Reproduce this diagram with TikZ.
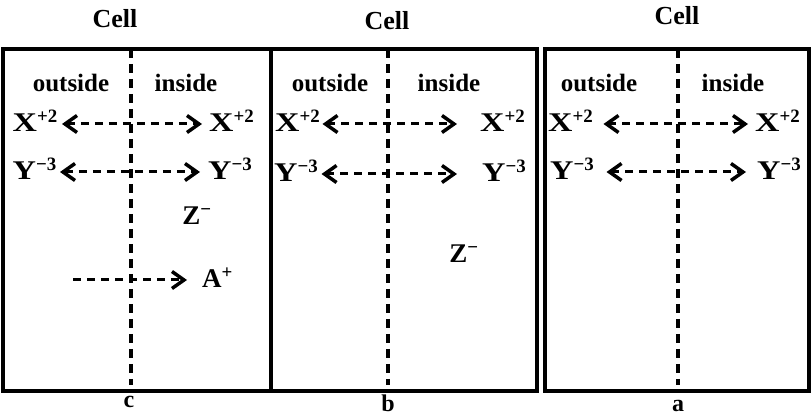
\documentclass[tikz,border=0pt]{standalone}
\usepackage{fontspec}
\setmainfont{Liberation Serif}
\usetikzlibrary{arrows.meta}
\newcommand{\wX}{\scalebox{1.25}[1]{X}}
\newcommand{\wY}{\scalebox{1.2}[1]{Y}}
\begin{document}
\begin{tikzpicture}[x=1pt,y=-1pt,
  lbl/.style={font=\fontsize{25}{25}\selectfont\bfseries, inner sep=0pt, text height=16pt, text depth=0pt},
  ion/.style={font=\fontsize{27}{27}\selectfont\bfseries, inner sep=0pt, text height=16pt, text depth=0pt},
  ttl/.style={font=\fontsize{26}{26}\selectfont\bfseries, inner sep=0pt, anchor=base},
  sub/.style={font=\fontsize{24}{24}\selectfont\bfseries, inner sep=0pt, anchor=base},
  box/.style={line width=3.5pt},
  mem/.style={line width=3.5pt, dash pattern=on 9pt off 6pt},
  flow/.style={line width=3pt, dash pattern=on 8pt off 6pt, -{Straight Barb[length=12pt,width=17pt,line width=3.5pt]}},
  flow2/.style={line width=3pt, dash pattern=on 8pt off 6pt, {Straight Barb[length=12pt,width=17pt,line width=3.5pt]}-{Straight Barb[length=12pt,width=17pt,line width=3.5pt]}}
]
\useasboundingbox (0,0) rectangle (812,419);

% ---------- panel c ----------
\draw[box] (3,49) rectangle (271,391);
\draw[mem] (131,49) -- (131,385);
\node[ttl] (cellc) at (115,28) {Cell};
\node[lbl,anchor=base] (outc) at (71,92) {outside};
\node[lbl,anchor=base] (inc) at (186,92) {inside};
\node[ion,anchor=base east] (xlc) at (58,132) {\wX\textsuperscript{+2}};
\node[ion,anchor=base west] (xrc) at (209,132) {\wX\textsuperscript{+2}};
\node[ion,anchor=base east] (ylc) at (57,180) {\wY\textsuperscript{−3}};
\node[ion,anchor=base west] (yrc) at (208,180) {\wY\textsuperscript{−3}};
\draw[flow2] ([xshift=4pt]xlc.east) -- ([xshift=-7pt]xrc.west);
\draw[flow2] ([xshift=3pt]ylc.east) -- ([xshift=-8pt]yrc.west);
\node[ion,anchor=base] (zc) at (197,225) {Z\textsuperscript{−}};
\node[ion,anchor=base west] (ac) at (202,288) {A\textsuperscript{+}};
\coordinate (as) at (73,280);
\draw[flow] (as) -- ([xshift=-15pt]ac.west);
\node[sub] (lc) at (129,408) {c};

% ---------- panel b ----------
\draw[box] (271,49) rectangle (537,391);
\draw[line width=4.5pt] (271,49) -- (271,391);
\draw[mem] (388,49) -- (388,385);
\node[ttl] (cellb) at (387,30) {Cell};
\node[lbl,anchor=base] (outb) at (330,92) {outside};
\node[lbl,anchor=base] (inb) at (449,92) {inside};
\node[ion,anchor=base west] (xlb) at (275,132) {\wX\textsuperscript{+2}};
\node[ion,anchor=base west] (xrb) at (480,132) {\wX\textsuperscript{+2}};
\node[ion,anchor=base west] (ylb) at (274,182) {\wY\textsuperscript{−3}};
\node[ion,anchor=base west] (yrb) at (482,182) {\wY\textsuperscript{−3}};
\draw[flow2] ([xshift=2pt]xlb.east) -- ([xshift=-23pt]xrb.west);
\draw[flow2] ([xshift=3pt]ylb.east) -- ([xshift=-25pt]yrb.west);
\node[ion,anchor=base] (zb) at (464,263) {Z\textsuperscript{−}};
\node[sub] (lb) at (388,412) {b};

% ---------- panel a ----------
\draw[box] (545,49) rectangle (809,391);
\draw[mem] (678,49) -- (678,385);
\node[ttl] (cella) at (677,25) {Cell};
\node[lbl,anchor=base] (outa) at (599,92) {outside};
\node[lbl,anchor=base] (ina) at (733,92) {inside};
\node[ion,anchor=base west] (xla) at (548,132) {\wX\textsuperscript{+2}};
\node[ion,anchor=base west] (xra) at (755,132) {\wX\textsuperscript{+2}};
\node[ion,anchor=base west] (yla) at (550,180) {\wY\textsuperscript{−3}};
\node[ion,anchor=base west] (yra) at (757,180) {\wY\textsuperscript{−3}};
\draw[flow2] ([xshift=10pt]xla.east) -- ([xshift=-7pt]xra.west);
\draw[flow2] ([xshift=12pt]yla.east) -- ([xshift=-11pt]yra.west);
\node[sub] (la) at (678,412) {a};
\end{tikzpicture}
\end{document}
